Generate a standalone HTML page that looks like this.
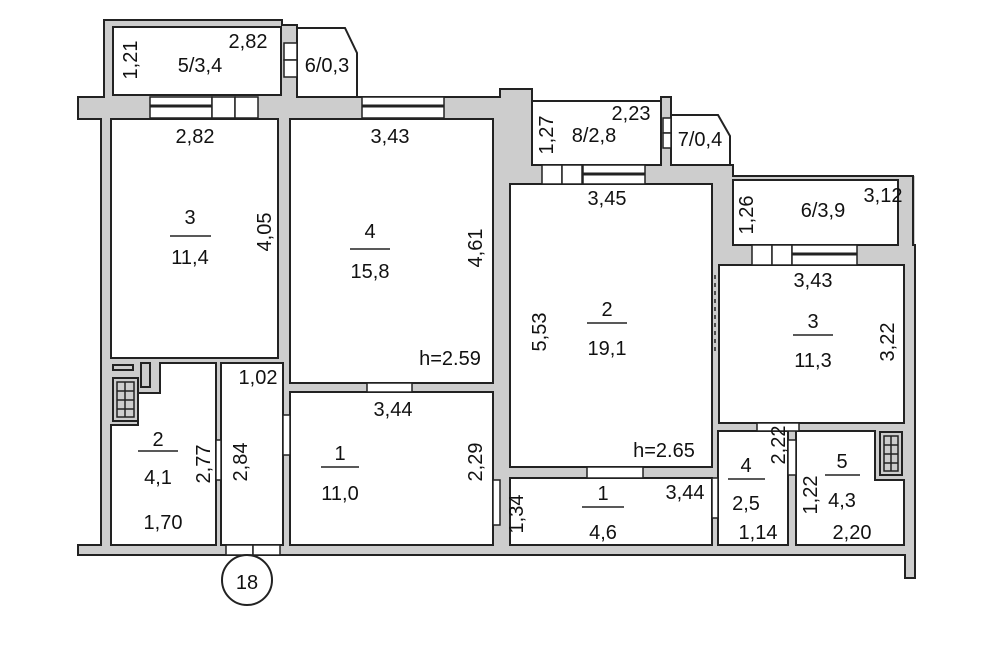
<!DOCTYPE html>
<html><head><meta charset="utf-8"><style>
html,body{margin:0;padding:0;background:#fff;}
svg{display:block;}
text{font-family:"Liberation Sans",sans-serif;font-size:20px;fill:#111;}
</style></head><body>
<svg width="1000" height="667" viewBox="0 0 1000 667">
<g fill="#cdcdcd" stroke="none">
<rect x="78" y="97" width="430" height="22"/>
<rect x="101" y="97" width="400" height="452"/>
<rect x="78" y="545" width="837" height="10"/>
<rect x="104" y="20" width="178" height="77"/>
<rect x="282" y="25" width="15" height="72"/>
<rect x="500" y="89" width="32" height="460"/>
<rect x="500" y="165" width="233" height="100"/>
<rect x="661" y="97" width="10" height="70"/>
<rect x="712" y="176" width="201" height="90"/>
<rect x="500" y="176" width="415" height="372"/>
<rect x="904" y="245" width="11" height="333"/>
</g>
<g fill="none" stroke="#222" stroke-width="2">
<path d="M78 555 H905 V578 H915 V245 H913 V176 H733 V165 H671 V97 H661 V101 H532 V89 H500 V97 H297 V25 H282 V20 H104 V97 H78 V119 H101 V545 H78 Z"/>
</g>
<g fill="#fff" stroke="#222" stroke-width="2">
<rect x="113" y="27" width="168" height="68"/>
<path d="M297 28 H345 L357 53 V97 H297 Z"/>
<rect x="532" y="101" width="129" height="64"/>
<path d="M671 115 H718 L730 136 V165 H671 Z"/>
<rect x="733" y="180" width="165" height="65"/>
<rect x="111" y="119" width="167" height="239"/>
<rect x="290" y="119" width="203" height="264"/>
<rect x="290" y="392" width="203" height="153"/>
<path d="M160 363 H216 V545 H111 V425 H138 V393 H160 Z"/>
<rect x="221" y="363" width="62" height="182"/>
<rect x="510" y="184" width="202" height="283"/>
<rect x="719" y="265" width="185" height="158"/>
<rect x="510" y="478" width="202" height="67"/>
<rect x="718" y="431" width="70" height="114"/>
<path d="M796 431 H875 V480 H904 V545 H796 Z"/>
</g>
<g fill="#fff" stroke="#222" stroke-width="1.5">
<rect x="150" y="97" width="62" height="21"/><line x1="150" y1="106" x2="212" y2="106" stroke-width="3"/>
<rect x="212" y="97" width="23" height="21"/><rect x="235" y="97" width="23" height="21"/>
<rect x="362" y="97" width="82" height="21"/><line x1="362" y1="106" x2="444" y2="106" stroke-width="3"/>
<rect x="284" y="43" width="13" height="17"/><rect x="284" y="60" width="13" height="17"/>
<rect x="226" y="545" width="27" height="10"/><rect x="253" y="545" width="27" height="10"/>
<rect x="542" y="165" width="20" height="19"/><rect x="562" y="165" width="20" height="19"/>
<rect x="583" y="165" width="62" height="19"/><line x1="583" y1="174" x2="645" y2="174" stroke-width="3"/>
<rect x="663" y="118" width="8" height="15"/><rect x="663" y="133" width="8" height="15"/>
<rect x="752" y="245" width="20" height="20"/><rect x="772" y="245" width="20" height="20"/>
<rect x="792" y="245" width="65" height="20"/><line x1="792" y1="254" x2="857" y2="254" stroke-width="3"/>
<rect x="367" y="383" width="45" height="9"/>
<rect x="587" y="467" width="56" height="11"/>
<rect x="757" y="423" width="42" height="8"/>
<rect x="283" y="415" width="7" height="40"/>
<rect x="493" y="480" width="7" height="45"/>
<rect x="216" y="440" width="5" height="40"/>
<rect x="788" y="440" width="8" height="35"/>
<rect x="712" y="478" width="6" height="40"/>
</g>
<line x1="715" y1="275" x2="715" y2="355" stroke="#222" stroke-width="1.5" stroke-dasharray="4,4"/>
<g fill="#cdcdcd" stroke="#222" stroke-width="2">
<rect x="113" y="378" width="25" height="43"/>
<rect x="141" y="363" width="9" height="24"/>
<rect x="113" y="365" width="20" height="5"/>
<rect x="880" y="432" width="22" height="43"/>
</g>
<g fill="none" stroke="#222" stroke-width="1.5">
<rect x="117" y="382" width="17" height="35"/><line x1="125" y1="382" x2="125" y2="417"/><line x1="117" y1="391" x2="134" y2="391"/><line x1="117" y1="400" x2="134" y2="400"/><line x1="117" y1="409" x2="134" y2="409"/>
<rect x="884" y="436" width="14" height="35"/><line x1="891" y1="436" x2="891" y2="471"/><line x1="884" y1="445" x2="898" y2="445"/><line x1="884" y1="454" x2="898" y2="454"/><line x1="884" y1="463" x2="898" y2="463"/>
</g>
<g stroke="#222" stroke-width="1.5">
<line x1="170" y1="236" x2="211" y2="236"/>
<line x1="350" y1="249" x2="390" y2="249"/>
<line x1="138" y1="451" x2="178" y2="451"/>
<line x1="321" y1="467" x2="359" y2="467"/>
<line x1="587" y1="323" x2="627" y2="323"/>
<line x1="793" y1="335" x2="833" y2="335"/>
<line x1="582" y1="507" x2="624" y2="507"/>
<line x1="728" y1="479" x2="765" y2="479"/>
<line x1="825" y1="475" x2="860" y2="475"/>
</g>
<g text-anchor="middle">
<text x="190" y="224">3</text><text x="190" y="264">11,4</text>
<text x="370" y="238">4</text><text x="370" y="278">15,8</text>
<text x="158" y="446">2</text><text x="158" y="484">4,1</text>
<text x="340" y="460">1</text><text x="340" y="500">11,0</text>
<text x="607" y="316">2</text><text x="607" y="355">19,1</text>
<text x="813" y="328">3</text><text x="813" y="367">11,3</text>
<text x="603" y="500">1</text><text x="603" y="539">4,6</text>
<text x="746" y="472">4</text><text x="746" y="510">2,5</text>
<text x="842" y="468">5</text><text x="842" y="507">4,3</text>
<text x="200" y="72">5/3,4</text><text x="248" y="48">2,82</text>
<text x="327" y="72">6/0,3</text>
<text x="195" y="143">2,82</text><text x="390" y="143">3,43</text>
<text x="607" y="205">3,45</text><text x="813" y="287">3,43</text>
<text x="594" y="142">8/2,8</text><text x="631" y="120">2,23</text>
<text x="700" y="146">7/0,4</text>
<text x="823" y="217">6/3,9</text><text x="883" y="202">3,12</text>
<text x="258" y="384">1,02</text><text x="393" y="416">3,44</text>
<text x="163" y="529">1,70</text><text x="685" y="499">3,44</text>
<text x="758" y="539">1,14</text><text x="852" y="539">2,20</text>
<text x="450" y="365">h=2.59</text><text x="664" y="457">h=2.65</text>
</g>
<g text-anchor="middle">
<text transform="translate(137,60) rotate(-90)">1,21</text>
<text transform="translate(271,232) rotate(-90)">4,05</text>
<text transform="translate(482,248) rotate(-90)">4,61</text>
<text transform="translate(210,464) rotate(-90)">2,77</text>
<text transform="translate(247,462) rotate(-90)">2,84</text>
<text transform="translate(482,462) rotate(-90)">2,29</text>
<text transform="translate(553,135) rotate(-90)">1,27</text>
<text transform="translate(753,215) rotate(-90)">1,26</text>
<text transform="translate(546,332) rotate(-90)">5,53</text>
<text transform="translate(894,342) rotate(-90)">3,22</text>
<text transform="translate(523,514) rotate(-90)">1,34</text>
<text transform="translate(785,445) rotate(-90)">2,22</text>
<text transform="translate(817,495) rotate(-90)">1,22</text>
</g>
<circle cx="247" cy="580" r="25" fill="#fff" stroke="#222" stroke-width="2"/>
<text x="247" y="589" text-anchor="middle" font-size="22">18</text>
</svg>
</body></html>
